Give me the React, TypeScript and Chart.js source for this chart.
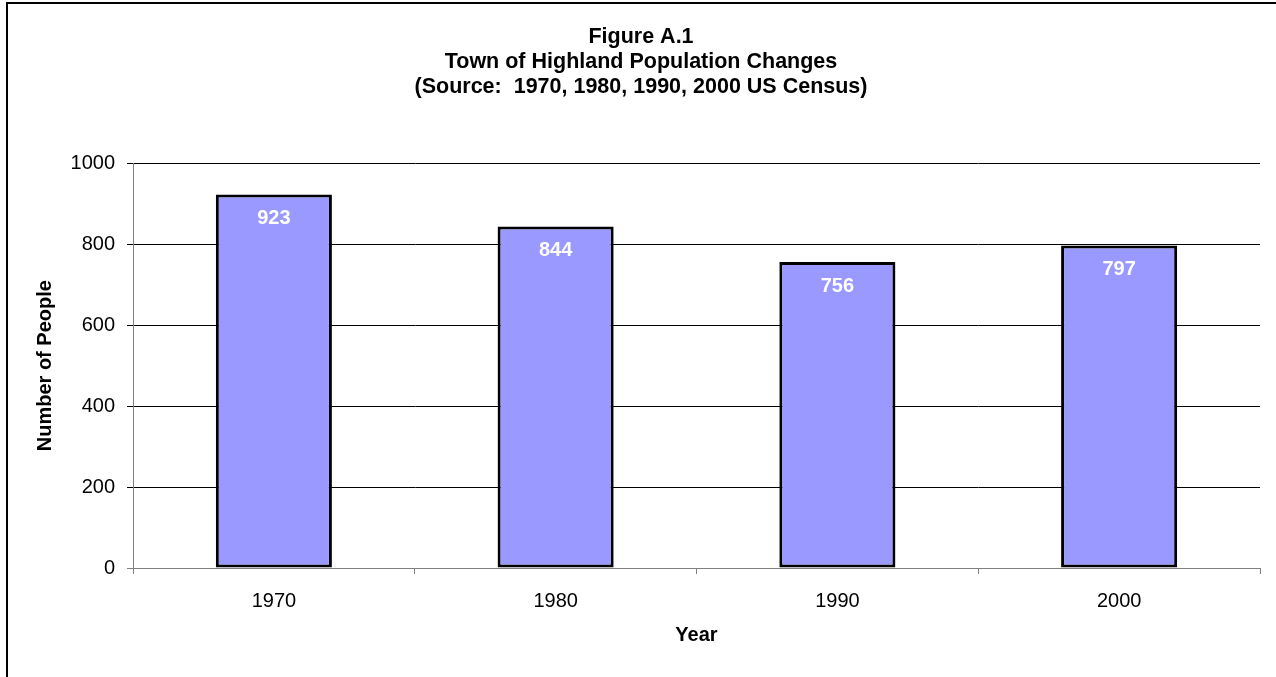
import React, { useEffect, useRef } from "react";
import { Chart, registerables } from "chart.js";

Chart.register(...registerables);

const categories = ["1970", "1980", "1990", "2000"];
const population = [923, 844, 756, 797];
const titleLines = [
  "Figure A.1",
  "Town of Highland Population Changes",
  "(Source:  1970, 1980, 1990, 2000 US Census)",
];
const yAxisTitle = "Number of People";
const xAxisTitle = "Year";

const FONT = "'Liberation Sans', Arial, Helvetica, sans-serif";

const barLabels = {
  id: "barLabels",
  afterDatasetsDraw(chart: any) {
    const ctx = chart.ctx;
    const meta = chart.getDatasetMeta(0);
    ctx.save();
    ctx.font = `bold 20px ${FONT}`;
    ctx.fillStyle = "#ffffff";
    ctx.textAlign = "center";
    ctx.textBaseline = "middle";
    meta.data.forEach((bar: any, i: number) => {
      const v = chart.data.datasets[0].data[i];
      ctx.fillText(String(v), bar.x, bar.y + 24);
    });
    ctx.restore();
  },
};

export default function App() {
  const ref = useRef<HTMLCanvasElement | null>(null);

  useEffect(() => {
    if (!ref.current) return;
    const chart = new Chart(ref.current, {
      type: "bar",
      data: {
        labels: categories,
        datasets: [
          {
            data: population,
            backgroundColor: "#9999ff",
            borderColor: "#000000",
            borderWidth: 3,
            borderSkipped: false,
            barPercentage: 0.412,
            categoryPercentage: 1,
          },
        ],
      },
      options: {
        responsive: false,
        animation: false,
        devicePixelRatio: 1,
        layout: { padding: { left: 22, right: 16, top: 0, bottom: 0 } },
        plugins: {
          legend: { display: false },
          tooltip: { enabled: false },
          title: {
            display: true,
            text: titleLines,
            color: "#000000",
            font: { family: FONT, size: 21.5, weight: "bold", lineHeight: 25 / 21.5 },
            padding: { top: 24.5, bottom: 63.8 },
          },
        },
        scales: {
          x: {
            afterFit: (scale: any) => {
              scale.height = 109;
            },
            grid: {
              display: true,
              drawOnChartArea: false,
              drawTicks: true,
              tickLength: 6,
              offset: true,
              color: "#808080",
              lineWidth: 1,
            },
            border: { display: true, color: "#808080", width: 1 },
            ticks: {
              color: "#000000",
              font: { family: FONT, size: 20 },
              padding: 15,
            },
            title: {
              display: true,
              text: xAxisTitle,
              color: "#000000",
              font: { family: FONT, size: 20, weight: "bold" },
              padding: { top: 0, bottom: 30 },
            },
          },
          y: {
            min: 0,
            max: 1000,
            afterFit: (scale: any) => {
              scale.width = 111;
            },
            grid: {
              display: true,
              drawTicks: true,
              tickLength: 6,
              color: (c: any) => (c.tick && c.tick.value === 0 ? "#808080" : "#000000"),
              lineWidth: 1,
            },
            border: { display: true, color: "#808080", width: 1 },
            ticks: {
              stepSize: 200,
              color: "#000000",
              font: { family: FONT, size: 20 },
              padding: 12,
              callback: (v: any) => String(v),
            },
            title: {
              display: true,
              text: yAxisTitle,
              color: "#000000",
              font: { family: FONT, size: 20, weight: "bold" },
              padding: { top: 11, bottom: 0 },
            },
          },
        },
      },
      plugins: [barLabels],
    });
    return () => chart.destroy();
  }, []);

  return (
    <div
      style={{
        position: "fixed",
        left: 0,
        top: 0,
        width: 1276,
        height: 677,
        overflow: "hidden",
        background: "#ffffff",
      }}
    >
      <div
        style={{
          position: "absolute",
          left: 6,
          top: 2,
          width: 1400,
          height: 800,
          borderLeft: "2px solid #000",
          borderTop: "2px solid #000",
        }}
      />
      <canvas
        ref={ref}
        width={1276}
        height={677}
        style={{ position: "absolute", left: 0, top: 0, width: 1276, height: 677 }}
      />
    </div>
  );
}
